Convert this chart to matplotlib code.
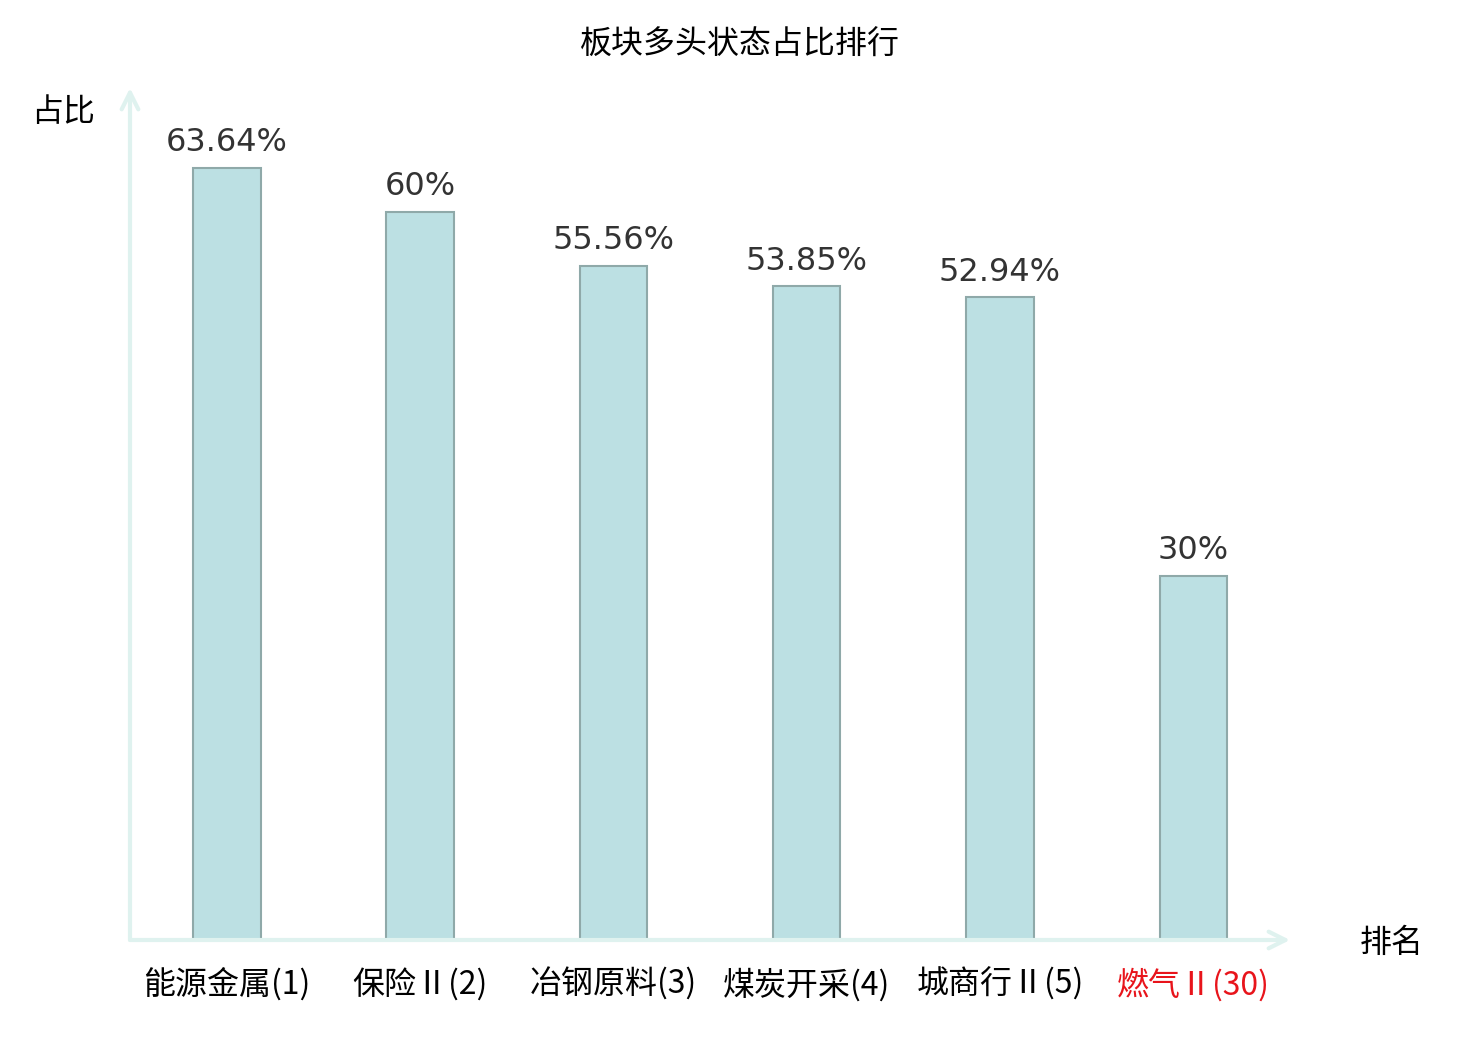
import matplotlib
matplotlib.use("Agg")
import matplotlib.pyplot as plt

plt.rcParams['font.family'] = ['Noto Sans CJK SC', 'DejaVu Sans']

# data
categories = ['能源金属(1)', '保险Ⅱ(2)', '冶钢原料(3)', '煤炭开采(4)', '城商行Ⅱ(5)', '燃气Ⅱ(30)']
values = [63.64, 60, 55.56, 53.85, 52.94, 30]
value_labels = ['63.64%', '60%', '55.56%', '53.85%', '52.94%', '30%']
label_colors = ['#000000'] * 5 + ['#e8141b']

fig = plt.figure(figsize=(14.8, 10.4), dpi=100)
ax = fig.add_axes([130 / 1480, 100 / 1040, 1160 / 1480, 852 / 1040])

x = list(range(len(categories)))
ax.bar(x, values, width=0.35, color='#bce0e3', edgecolor='#8fa9a9', linewidth=1.5, zorder=3)

for xi, v, lab in zip(x, values, value_labels):
    ax.annotate(lab, (xi, v), xytext=(0, 7), textcoords='offset points',
                ha='center', va='bottom', fontsize=23, color='#333333',
                family='DejaVu Sans')

ax.set_xlim(-0.5, 5.5)
ax.set_ylim(0, 70.2)
for s in ax.spines.values():
    s.set_visible(False)
ax.set_yticks([])
ax.set_xticks(x)
ax.set_xticklabels(categories, fontsize=23)
ax.tick_params(axis='x', length=0, pad=20)
for t, c in zip(ax.get_xticklabels(), label_colors):
    t.set_color(c)

# axis lines with arrows
axis_color = '#dff2ef'
ax.annotate('', xy=(1.0, 0), xytext=(0, 0), xycoords='axes fraction',
            arrowprops=dict(arrowstyle='->', color=axis_color, lw=3,
                            mutation_scale=30, shrinkA=0, shrinkB=0))
ax.annotate('', xy=(0, 1.0), xytext=(0, 0), xycoords='axes fraction',
            arrowprops=dict(arrowstyle='->', color=axis_color, lw=3,
                            mutation_scale=30, shrinkA=0, shrinkB=0))

fig.text(63 / 1480, 1 - 112 / 1040, '占比', fontsize=23, ha='center', va='center')
fig.text(1392 / 1480, 1 - 943 / 1040, '排名', fontsize=23, ha='center', va='center')
fig.text(740 / 1480, 1 - 45 / 1040, '板块多头状态占比排行', fontsize=23, ha='center', va='center')

fig.savefig('out.png', dpi=100)
